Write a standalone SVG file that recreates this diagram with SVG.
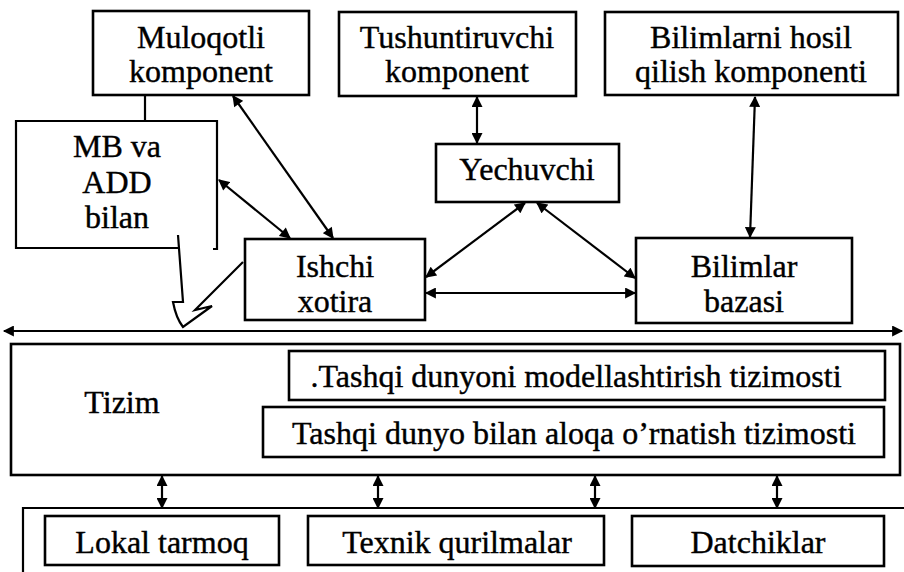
<svg xmlns="http://www.w3.org/2000/svg" width="904" height="572" viewBox="0 0 904 572" font-family="Liberation Serif">
  <style>
    .box { fill: #fff; stroke: #000; stroke-width: 2.6; }
    .ln { fill: none; stroke: #000; stroke-width: 2.2; }
    .arr { fill: none; stroke: #000; stroke-width: 2.2; marker-start: url(#ah); marker-end: url(#ah); }
    text { font-family: Liberation Serif, Times New Roman, serif; font-size: 32px; fill: #000; stroke: #000; stroke-width: 0.4; text-anchor: middle; }
  </style>
  <defs>
    <marker id="ah" viewBox="0 0 10 10" refX="9" refY="5" markerWidth="5.5" markerHeight="5" orient="auto-start-reverse" markerUnits="strokeWidth">
      <path d="M0,0 L10,5 L0,10 z" fill="#000"/>
    </marker>
  </defs>
  <rect width="904" height="572" fill="#fff"/>

  <!-- links between the blocks -->
  <g id="connectors">
    <line class="ln" x1="145" y1="95" x2="145" y2="121"/>
    <line class="arr" x1="477" y1="97" x2="477" y2="143"/>
    <line class="arr" x1="755" y1="97" x2="750" y2="237"/>
    <line class="arr" x1="233" y1="96" x2="333" y2="238"/>
    <line class="arr" x1="219" y1="180" x2="290" y2="238"/>
    <line class="arr" x1="525" y1="203" x2="426" y2="277"/>
    <line class="arr" x1="537" y1="203" x2="635" y2="278"/>
    <line class="arr" x1="426" y1="293" x2="635" y2="293"/>
    <line class="arr" x1="4" y1="331" x2="902" y2="331"/>
    <line class="arr" x1="162" y1="476" x2="162" y2="508"/>
    <line class="arr" x1="378" y1="476" x2="378" y2="508"/>
    <line class="arr" x1="595" y1="476" x2="595" y2="508"/>
    <line class="arr" x1="777" y1="476" x2="777" y2="508"/>
  </g>

  <!-- top components -->
  <g id="muloqotli">
    <rect class="box" x="93" y="11" width="216" height="84"/>
    <text x="201" y="48" font-family="Liberation Serif" style="font-family:Liberation Serif">Muloqotli</text>
    <text x="201" y="82" font-family="Liberation Serif" style="font-family:Liberation Serif">komponent</text>
  </g>
  <g id="tushuntiruvchi">
    <rect class="box" x="339" y="12" width="237" height="84"/>
    <text x="457" y="48" font-family="Liberation Serif" style="font-family:Liberation Serif">Tushuntiruvchi</text>
    <text x="457" y="82" font-family="Liberation Serif" style="font-family:Liberation Serif">komponent</text>
  </g>
  <g id="bilimlarni">
    <rect class="box" x="605" y="12" width="293" height="83"/>
    <text x="751" y="48" font-family="Liberation Serif" style="font-family:Liberation Serif">Bilimlarni hosil</text>
    <text x="751" y="82" font-family="Liberation Serif" style="font-family:Liberation Serif">qilish komponenti</text>
  </g>

  <!-- callout box with its tail -->
  <g id="mb-add">
    <path class="ln" stroke-width="2.6" d="M178,248 L16,248 L16,121 L217,121 L217,249 L213,249"/>
    <path class="ln" d="M178,235 L183,302 L173,302 Q176,318 183,327 L212,306 L195,310 L243,262"/>
    <text x="117" y="157" font-family="Liberation Serif" style="font-family:Liberation Serif">MB va</text>
    <text x="117" y="193" font-family="Liberation Serif" style="font-family:Liberation Serif">ADD</text>
    <text x="117" y="228" font-family="Liberation Serif" style="font-family:Liberation Serif">bilan</text>
  </g>

  <g id="yechuvchi">
    <rect class="box" x="436" y="144" width="183" height="58"/>
    <text x="527" y="180" font-family="Liberation Serif" style="font-family:Liberation Serif">Yechuvchi</text>
  </g>
  <g id="ishchi">
    <rect class="box" x="245" y="239" width="180" height="81"/>
    <text x="335" y="277" font-family="Liberation Serif" style="font-family:Liberation Serif">Ishchi</text>
    <text x="335" y="312" font-family="Liberation Serif" style="font-family:Liberation Serif">xotira</text>
  </g>
  <g id="bilimlar">
    <rect class="box" x="636" y="238" width="216" height="85"/>
    <text x="744" y="277" font-family="Liberation Serif" style="font-family:Liberation Serif">Bilimlar</text>
    <text x="744" y="312" font-family="Liberation Serif" style="font-family:Liberation Serif">bazasi</text>
  </g>

  <!-- system block -->
  <g id="tizim">
    <rect class="box" x="11" y="344" width="889" height="131"/>
    <text x="122" y="413" font-family="Liberation Serif" style="font-family:Liberation Serif">Tizim</text>
  </g>
  <g id="modellashtirish">
    <rect class="box" x="289" y="351" width="596" height="49"/>
    <text x="576" y="387" font-family="Liberation Serif" style="font-family:Liberation Serif">.Tashqi dunyoni modellashtirish tizimosti</text>
  </g>
  <g id="aloqa">
    <rect class="box" x="263" y="407" width="621" height="50"/>
    <text x="574" y="444" font-family="Liberation Serif" style="font-family:Liberation Serif">Tashqi dunyo bilan aloqa o’rnatish tizimosti</text>
  </g>

  <!-- devices -->
  <g id="qurilmalar">
    <path class="ln" stroke-width="2.6" d="M23,572 L23,508 L904,508"/>
  </g>
  <g id="lokal">
    <rect class="box" x="45" y="516" width="234" height="49"/>
    <text x="162" y="553" font-family="Liberation Serif" style="font-family:Liberation Serif">Lokal tarmoq</text>
  </g>
  <g id="texnik">
    <rect class="box" x="308" y="516" width="296" height="49"/>
    <text x="457" y="553" font-family="Liberation Serif" style="font-family:Liberation Serif">Texnik qurilmalar</text>
  </g>
  <g id="datchiklar">
    <rect class="box" x="632" y="516" width="252" height="50"/>
    <text x="758" y="553" font-family="Liberation Serif" style="font-family:Liberation Serif">Datchiklar</text>
  </g>
</svg>
